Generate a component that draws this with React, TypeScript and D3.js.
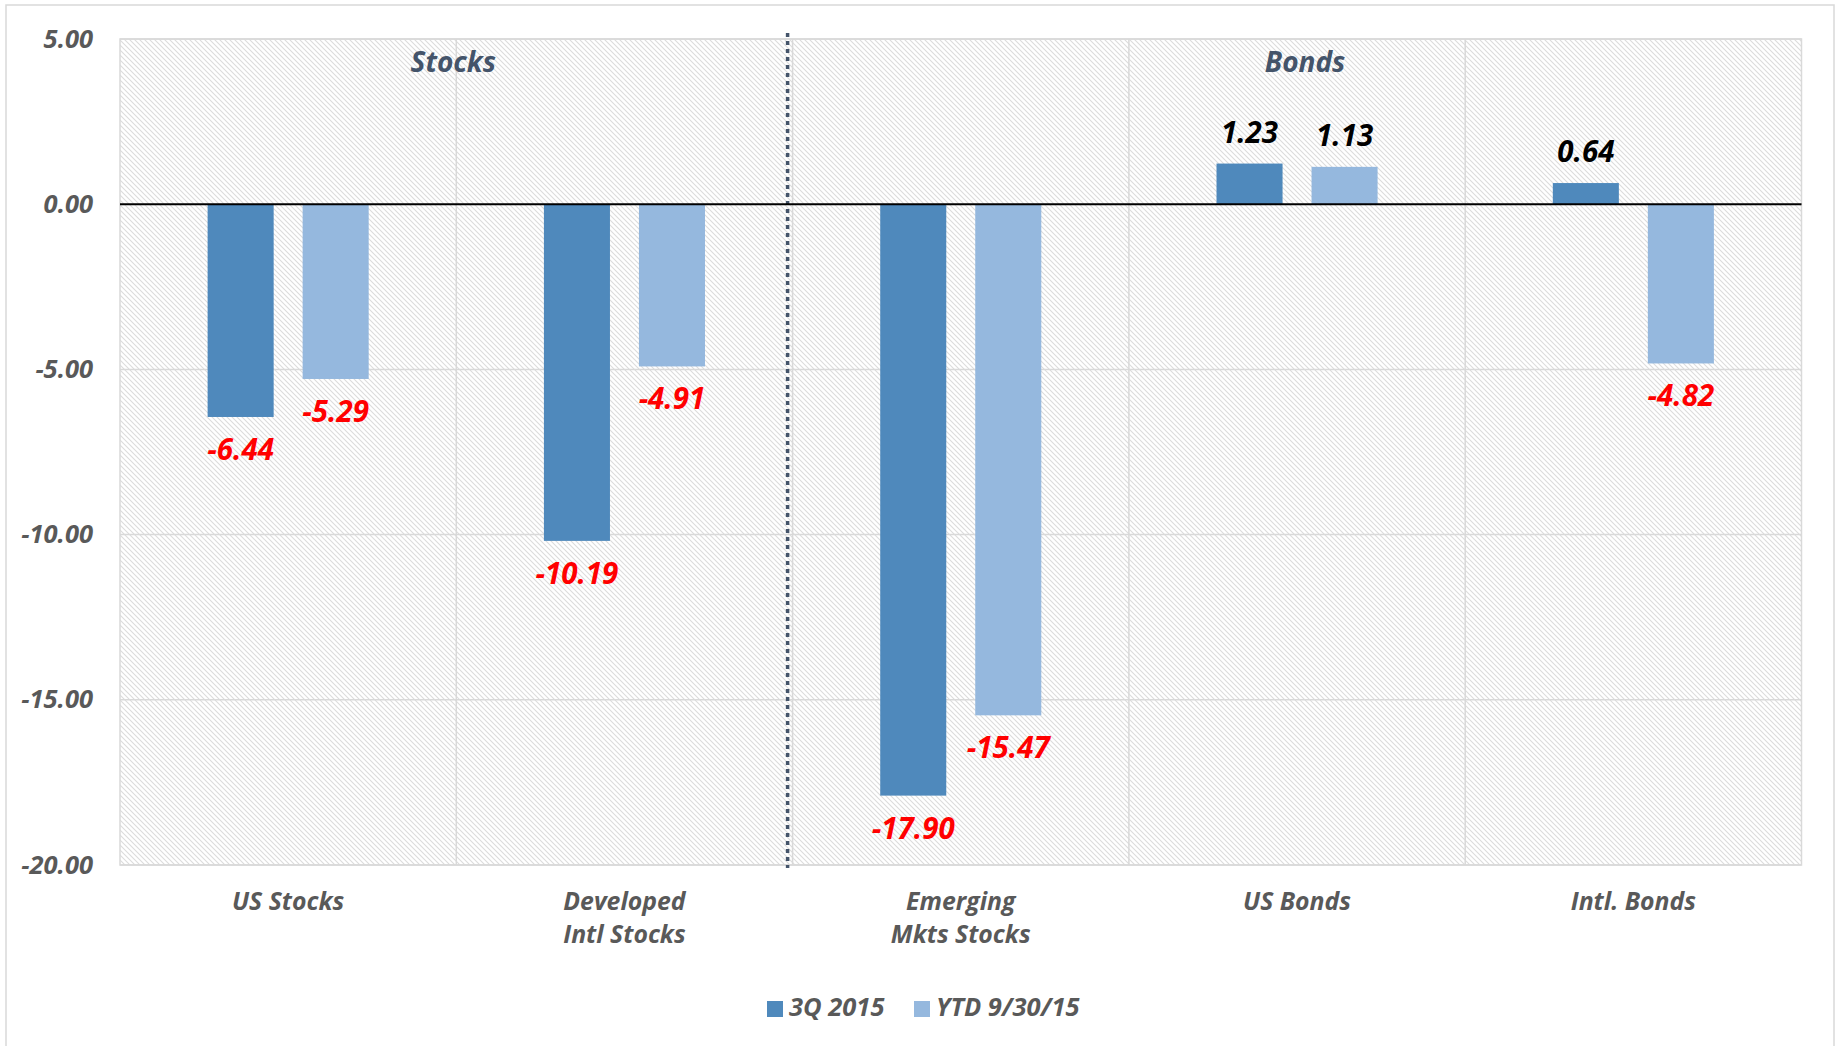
import React from "react";
import * as d3 from "d3";

// Asset class returns (%)
const categories: string[][] = [
  ["US Stocks"],
  ["Developed", "Intl Stocks"],
  ["Emerging", "Mkts Stocks"],
  ["US Bonds"],
  ["Intl. Bonds"],
];
const seriesNames = ["3Q 2015", "YTD 9/30/15"];
const q3Returns = [-6.44, -10.19, -17.9, 1.23, 0.64];
const ytdReturns = [-5.29, -4.91, -15.47, 1.13, -4.82];
const yTicks = [5, 0, -5, -10, -15, -20];
const groupHeaders = [
  { text: "Stocks", at: 1 },
  { text: "Bonds", at: 3.5 },
];

const W = 1837;
const H = 1046;
const plot = { left: 120, right: 1801.5, top: 39, bottom: 865 };
const colors = ["#4F89BC", "#95B8DE"];
const FONT = "'Open Sans', sans-serif";

export default function App() {
  const y = d3.scaleLinear().domain([5, -20]).range([plot.top, plot.bottom]);
  const x = d3
    .scaleBand<number>()
    .domain(d3.range(categories.length))
    .range([plot.left, plot.right])
    .padding(0);
  const inner = d3
    .scaleBand<string>()
    .domain(seriesNames)
    .range([0, x.bandwidth()])
    .paddingInner(0.305)
    .paddingOuter(0.922);

  const series = [q3Returns, ytdReturns];
  const y0 = y(0);
  const bw = inner.bandwidth();

  return (
    <svg
      width={W}
      height={H}
      style={{ position: "absolute", left: 0, top: 0, background: "#fff" }}
    >
      <defs>
        <pattern id="hatch" width="5" height="5" patternUnits="userSpaceOnUse">
          <path d="M-1,-1 L6,6 M-1,4 L1,6 M4,-1 L6,1" stroke="#dcdcdc" strokeWidth="1.1" />
        </pattern>
      </defs>
      {/* chart frame */}
      <rect x={6} y={5} width={1828} height={1060} fill="#fff" stroke="#d9d9d9" strokeWidth={1.5} />

      {/* plot area */}
      <rect
        x={plot.left}
        y={plot.top}
        width={plot.right - plot.left}
        height={plot.bottom - plot.top}
        fill="url(#hatch)"
      />
      {yTicks
        .filter((t) => t !== 0)
        .map((t) => (
          <line key={t} x1={plot.left} x2={plot.right} y1={y(t)} y2={y(t)} stroke="#d9d9d9" strokeWidth={1.5} />
        ))}
      {d3.range(1, categories.length).map((i) => (
        <line
          key={i}
          x1={x(i)!}
          x2={x(i)!}
          y1={plot.top}
          y2={plot.bottom}
          stroke="#d9d9d9"
          strokeWidth={1.5}
        />
      ))}
      <rect
        x={plot.left}
        y={plot.top}
        width={plot.right - plot.left}
        height={plot.bottom - plot.top}
        fill="none"
        stroke="#d9d9d9"
        strokeWidth={1.5}
      />

      {/* stocks / bonds divider */}
      <line
        x1={x(2)! - 5}
        x2={x(2)! - 5}
        y1={plot.top - 6}
        y2={plot.bottom + 3}
        stroke="#44546A"
        strokeWidth={3.5}
        strokeDasharray="4,4"
      />

      {/* group headers */}
      {groupHeaders.map((g) => (
        <text
          key={g.text}
          x={plot.left + g.at * x.bandwidth() + (g.text === "Stocks" ? -3 : 8)}
          y={72}
          textAnchor="middle"
          fontFamily={FONT}
          fontWeight={700}
          fontStyle="italic"
          fontSize={28}
          fill="#44546A"
        >
          {g.text}
        </text>
      ))}

      {/* bars */}
      {series.map((vals, si) =>
        vals.map((v, ci) => {
          const bx = x(ci)! + inner(seriesNames[si])!;
          const yv = y(v);
          return (
            <rect
              key={`${si}-${ci}`}
              x={bx}
              y={Math.min(yv, y0)}
              width={bw}
              height={Math.abs(yv - y0)}
              fill={colors[si]}
            />
          );
        })
      )}

      {/* zero line */}
      <line x1={plot.left} x2={plot.right} y1={y0} y2={y0} stroke="#000" strokeWidth={2} />

      {/* value labels */}
      {series.map((vals, si) =>
        vals.map((v, ci) => {
          const cx = x(ci)! + inner(seriesNames[si])! + bw / 2;
          const neg = v < 0;
          return (
            <text
              key={`l-${si}-${ci}`}
              x={cx}
              y={neg ? y(v) + 43 : y(v) - 21}
              textAnchor="middle"
              fontFamily={FONT}
              fontWeight={700}
              fontStyle="italic"
              fontSize={29.5}
              fill={neg ? "#FF0000" : "#000000"}
            >
              {v.toFixed(2)}
            </text>
          );
        })
      )}

      {/* y axis labels */}
      {yTicks.map((t) => (
        <text
          key={t}
          x={93}
          y={y(t) + 8.5}
          textAnchor="end"
          fontFamily={FONT}
          fontWeight={700}
          fontStyle="italic"
          fontSize={25.5}
          fill="#595959"
        >
          {t.toFixed(2)}
        </text>
      ))}

      {/* category labels */}
      {categories.map((lines, ci) => (
        <text
          key={ci}
          textAnchor="middle"
          fontFamily={FONT}
          fontWeight={700}
          fontStyle="italic"
          fontSize={24.8}
          fill="#595959"
        >
          {lines.map((ln, li) => (
            <tspan key={li} x={x(ci)! + x.bandwidth() / 2} y={910 + li * 33}>
              {ln}
            </tspan>
          ))}
        </text>
      ))}

      {/* legend */}
      {seriesNames.map((s, si) => {
        const lx = [767, 914][si];
        return (
          <g key={s}>
            <rect x={lx} y={1001} width={16} height={16} fill={colors[si]} />
            <text
              x={lx + 22}
              y={1016}
              fontFamily={FONT}
              fontWeight={700}
              fontStyle="italic"
              fontSize={25.5}
              fill="#595959"
            >
              {s}
            </text>
          </g>
        );
      })}
    </svg>
  );
}
